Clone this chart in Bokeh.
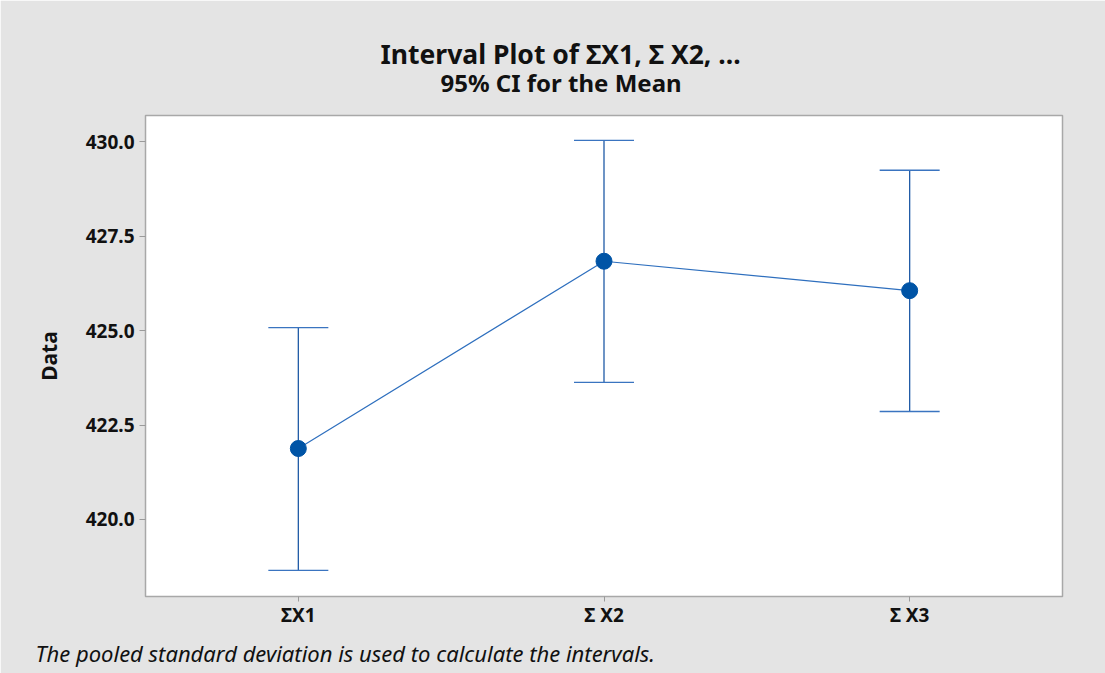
from bokeh.plotting import figure
from bokeh.models import (Range1d, FixedTicker, NumeralTickFormatter, Whisker,
                          TeeHead, ColumnDataSource, Title)
from bokeh.embed import file_html
from bokeh.resources import INLINE

# ---- data ----
categories = ["ΣX1", "Σ X2", "Σ X3"]
means = [421.88, 426.84, 426.06]
lower = [418.65, 423.63, 422.86]
upper = [425.08, 430.04, 429.25]
y_ticks = [420.0, 422.5, 425.0, 427.5, 430.0]

title_text = "Interval Plot of ΣX1, Σ X2, ..."
subtitle_text = "95% CI for the Mean"
footnote_text = "The pooled standard deviation is used to calculate the intervals."

FONT = "Noto Sans"
BG = "#e4e4e4"

src = ColumnDataSource(dict(x=categories, m=means, lo=lower, up=upper))

p = figure(width=1105, height=673, x_range=categories, y_range=Range1d(417.96, 430.70),
           output_backend="svg", toolbar_location=None, title=None)
p.min_border_left = 145
p.min_border_right = 43
p.min_border_top = 115
p.min_border_bottom = 77

p.background_fill_color = "white"
p.border_fill_color = BG
p.outline_line_color = "#a8a8a8"
p.outline_line_width = 1.5
p.xgrid.grid_line_color = None
p.ygrid.grid_line_color = None

for ax in (p.xaxis[0], p.yaxis[0]):
    ax.axis_line_color = None
    ax.major_tick_line_color = "#9a9a9a"
    ax.major_tick_in = 0
    ax.major_tick_out = 6
    ax.minor_tick_line_color = None
    ax.major_label_text_font = FONT
    ax.major_label_text_font_style = "bold"
    ax.major_label_text_font_size = "19px"
    ax.major_label_text_color = "#111111"

p.yaxis.ticker = FixedTicker(ticks=y_ticks)
p.yaxis.formatter = NumeralTickFormatter(format="0.0")
p.yaxis.major_label_standoff = 5
p.yaxis.axis_label = "Data"
p.yaxis.axis_label_text_font = FONT
p.yaxis.axis_label_text_font_style = "bold"
p.yaxis.axis_label_text_font_size = "21px"
p.yaxis.axis_label_text_color = "#111111"
p.yaxis.axis_label_standoff = 20
p.xaxis.major_tick_out = 5
p.xaxis.major_label_standoff = 0

whisk = Whisker(base="x", lower="lo", upper="up", source=src, dimension="height",
                line_color="#1f5aa6", line_width=1.3,
                upper_head=TeeHead(size=60, line_color="#3a74c0", line_width=1.3),
                lower_head=TeeHead(size=60, line_color="#3a74c0", line_width=1.3))
p.add_layout(whisk)

p.line(x="x", y="m", source=src, line_color="#2e6fbe", line_width=1.2)
p.scatter(x="x", y="m", source=src, size=16, fill_color="#0054a6", line_color="#0054a6")

# titles (first added sits closest to the frame)
p.add_layout(Title(text=subtitle_text, align="left", offset=295, standoff=33,
                   text_font=FONT, text_font_style="bold", text_font_size="24px",
                   text_color="#111111"), "above")
p.add_layout(Title(text=title_text, align="left", offset=235, standoff=-48,
                   text_font=FONT, text_font_style="bold", text_font_size="26.5px",
                   text_color="#111111"), "above")
p.add_layout(Title(text=footnote_text, align="left", offset=-110, standoff=10,
                   text_font=FONT, text_font_style="italic", text_font_size="22px",
                   text_color="#111111"), "below")

open("out.html", "w").write(file_html(p, INLINE))
